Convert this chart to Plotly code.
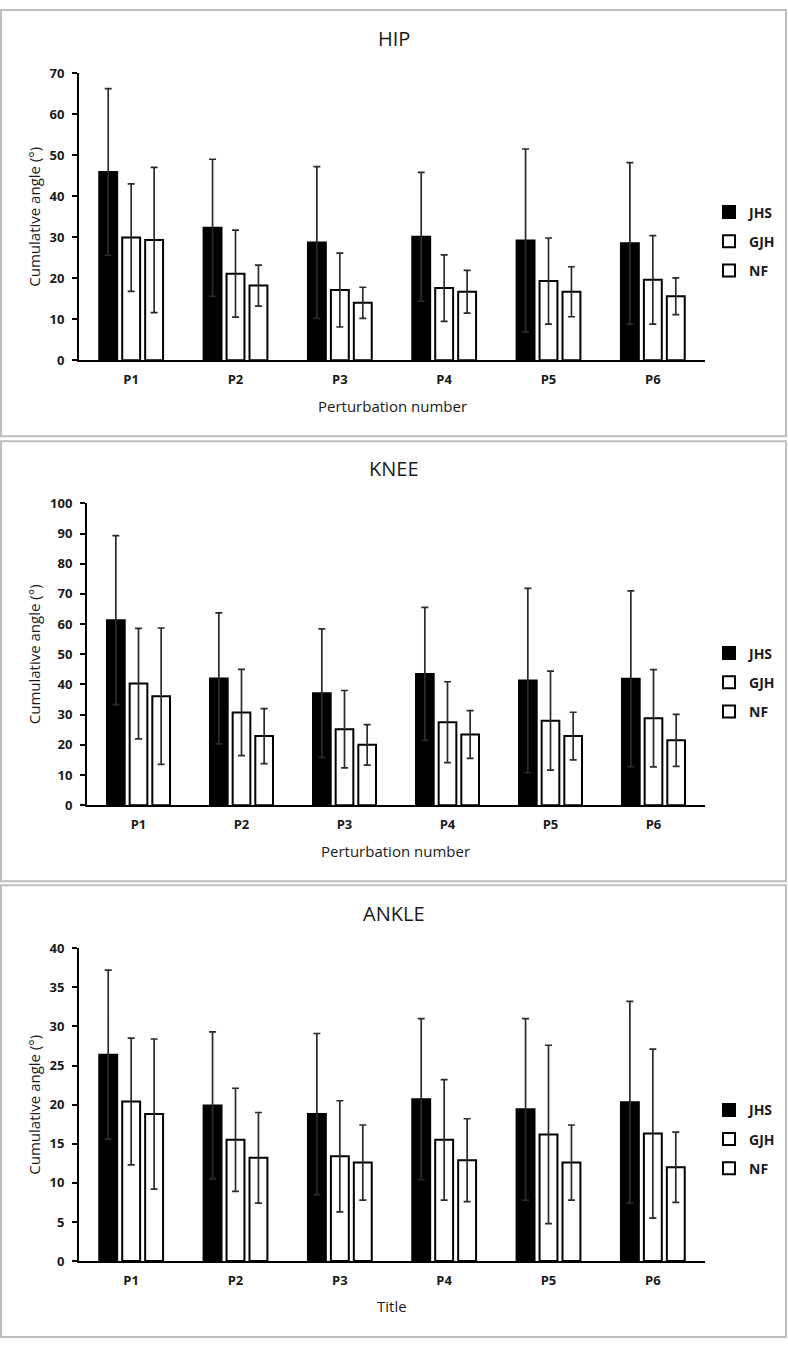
import plotly.graph_objects as go

W, H = 788, 1348

categories = ["P1", "P2", "P3", "P4", "P5", "P6"]
groups = ["JHS", "GJH", "NF"]

# HIP
hip_jhs = [45.9, 32.3, 28.7, 30.1, 29.2, 28.5]
hip_jhs_sd = [20.3, 16.7, 18.5, 15.7, 22.3, 19.7]
hip_gjh = [29.9, 21.1, 17.1, 17.6, 19.3, 19.6]
hip_gjh_sd = [13.1, 10.6, 9.0, 8.1, 10.5, 10.8]
hip_nf = [29.3, 18.2, 14.0, 16.7, 16.7, 15.6]
hip_nf_sd = [17.7, 5.0, 3.8, 5.2, 6.1, 4.5]

# KNEE
knee_jhs = [61.3, 42.0, 37.1, 43.5, 41.3, 41.9]
knee_jhs_sd = [28.0, 21.7, 21.3, 22.0, 30.5, 29.1]
knee_gjh = [40.3, 30.7, 25.2, 27.5, 28.0, 28.8]
knee_gjh_sd = [18.3, 14.3, 12.8, 13.4, 16.4, 16.1]
knee_nf = [36.1, 22.9, 20.0, 23.4, 22.9, 21.5]
knee_nf_sd = [22.6, 9.1, 6.7, 7.9, 7.9, 8.6]

# ANKLE
ankle_jhs = [26.4, 19.9, 18.8, 20.7, 19.4, 20.3]
ankle_jhs_sd = [10.8, 9.4, 10.3, 10.3, 11.6, 12.9]
ankle_gjh = [20.4, 15.5, 13.4, 15.5, 16.2, 16.3]
ankle_gjh_sd = [8.1, 6.6, 7.1, 7.7, 11.4, 10.8]
ankle_nf = [18.8, 13.2, 12.6, 12.9, 12.6, 12.0]
ankle_nf_sd = [9.6, 5.8, 4.8, 5.3, 4.8, 4.5]

panel_titles = ["HIP", "KNEE", "ANKLE"]
x_titles = ["Perturbation number", "Perturbation number", "Title"]
y_title = "Cumulative angle (°)"
y_ranges = [70, 100, 40]
y_dticks = [10, 10, 5]

panels = [
    [(hip_jhs, hip_jhs_sd), (hip_gjh, hip_gjh_sd), (hip_nf, hip_nf_sd)],
    [(knee_jhs, knee_jhs_sd), (knee_gjh, knee_gjh_sd), (knee_nf, knee_nf_sd)],
    [(ankle_jhs, ankle_jhs_sd), (ankle_gjh, ankle_gjh_sd), (ankle_nf, ankle_nf_sd)],
]

FONT = "Open Sans"
fills = ["black", "white", "white"]

# layout geometry in pixels (top-down)
plot_x = [(79, 705), (87, 705), (79, 705)]
plot_y = [(65, 356), (501, 807), (952, 1269)]
frames = [(1, 433), (438, 884), (888, 1346)]
title_y = [30, 466, 917]
xtitle_y = [402, 853, 1315]
legend_top = [190, 637, 1100]


def px(x):
    return x / W


def py(y):
    return 1 - y / H


fig = go.Figure()
legend_names = ["legend", "legend2", "legend3"]

for p, series in enumerate(panels):
    xa = "x" if p == 0 else f"x{p + 1}"
    ya = "y" if p == 0 else f"y{p + 1}"
    for g, (vals, sds) in enumerate(series):
        fig.add_trace(go.Bar(
            x=categories, y=vals, name=groups[g],
            xaxis=xa, yaxis=ya,
            legend=legend_names[p],
            legendgroup=f"{p}-{g}",
            marker=dict(color=fills[g], line=dict(color="black", width=2)),
            error_y=dict(type="data", array=sds, visible=True,
                         color="#2b2b2b", thickness=1.7, width=3.5),
        ))

layout = dict(
    width=W, height=H,
    margin=dict(l=0, r=0, t=0, b=0),
    paper_bgcolor="white", plot_bgcolor="white",
    barmode="group", bargap=0.34, bargroupgap=0.22,
    font=dict(family=FONT, color="#1a1a1a", size=13),
    showlegend=True,
)

annotations = []
shapes = []
for p in range(3):
    xk = "xaxis" if p == 0 else f"xaxis{p + 1}"
    yk = "yaxis" if p == 0 else f"yaxis{p + 1}"
    ya = "y" if p == 0 else f"y{p + 1}"
    xa = "x" if p == 0 else f"x{p + 1}"
    x0, x1 = plot_x[p]
    ytop, ybot = plot_y[p]
    layout[xk] = dict(
        domain=[px(x0), px(x1)], anchor=ya, range=[-0.5, 5.5],
        showline=True, linecolor="black", linewidth=2, ticks="",
        showgrid=False, zeroline=False, ticklabelstandoff=6,
        tickfont=dict(family=FONT, size=13, color="#1a1a1a", weight="bold"),
        fixedrange=True,
    )
    layout[yk] = dict(
        domain=[py(ybot), py(ytop)], anchor=xa,
        range=[0, y_ranges[p]], dtick=y_dticks[p],
        showline=True, linecolor="black", linewidth=2,
        ticks="outside", ticklen=5, tickwidth=1.5, tickcolor="black",
        showgrid=False, zeroline=False, ticklabelstandoff=5,
        tickfont=dict(family=FONT, size=13, color="#1a1a1a", weight="bold"),
        fixedrange=True,
    )
    ln = "legend" if p == 0 else f"legend{p + 1}"
    layout[ln] = dict(
        x=px(709), y=py(legend_top[p]), xanchor="left", yanchor="top",
        font=dict(family=FONT, size=14, color="#1a1a1a", weight="bold"),
        itemwidth=30, tracegroupgap=8, traceorder="grouped",
        bgcolor="rgba(0,0,0,0)",
    )
    annotations.append(dict(
        text=panel_titles[p], x=px(394), y=py(title_y[p]),
        xref="paper", yref="paper", showarrow=False,
        font=dict(family=FONT, size=20, color="#1a1a1a"),
        xanchor="center", yanchor="middle",
    ))
    annotations.append(dict(
        text=x_titles[p], x=px((x0 + x1) / 2), y=py(xtitle_y[p]),
        xref="paper", yref="paper", showarrow=False,
        font=dict(family=FONT, size=15, color="#1a1a1a"),
        xanchor="center", yanchor="middle",
    ))
    annotations.append(dict(
        text=y_title, x=px(34), y=py((ytop + ybot) / 2),
        xref="paper", yref="paper", showarrow=False, textangle=-90,
        font=dict(family=FONT, size=15, color="#1a1a1a"),
        xanchor="center", yanchor="middle",
    ))
    f0, f1 = frames[p]
    shapes.append(dict(
        type="rect", xref="paper", yref="paper",
        x0=px(1), x1=px(786), y0=py(f1), y1=py(f0),
        line=dict(color="#bfbfbf", width=2), fillcolor="rgba(0,0,0,0)",
        layer="below",
    ))

layout["annotations"] = annotations
layout["shapes"] = shapes
fig.update_layout(**layout)

fig.write_html("out.html", config={"displayModeBar": False},
               post_script="document.body.style.margin='0';document.body.style.overflow='hidden';")
